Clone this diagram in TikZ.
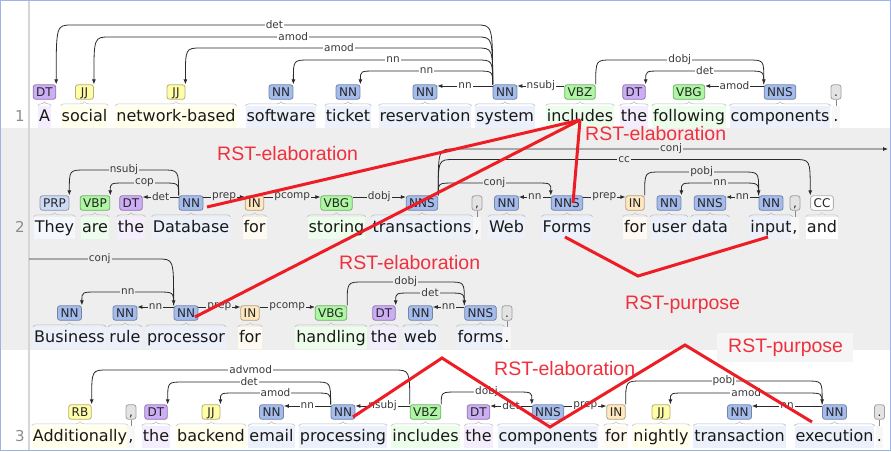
\documentclass[tikz,border=0pt]{standalone}
\usepackage{fontspec}
\setmainfont{DejaVu Sans}
\newfontfamily\rstfont{Liberation Sans}
\usetikzlibrary{arrows.meta,calc,decorations.pathreplacing}

\definecolor{cNN}{HTML}{A4BCED}
\definecolor{cVB}{HTML}{ADF6A2}
\definecolor{cJJ}{HTML}{FFFDA8}
\definecolor{cDT}{HTML}{CCADF6}
\definecolor{cPRP}{HTML}{CCDAF6}
\definecolor{cIN}{HTML}{FFE8BE}
\definecolor{cCC}{HTML}{FFFFFF}
\definecolor{cPU}{HTML}{E3E3E3}
\definecolor{rowgray}{HTML}{EEEEEE}
\definecolor{purposebg}{HTML}{F5F5F5}
\definecolor{rstred}{HTML}{EE1C24}
\definecolor{rsttext}{HTML}{F0303C}
\definecolor{frameblue}{HTML}{9DB4E6}
\definecolor{arcgray}{HTML}{2A2A2A}
\definecolor{labtext}{HTML}{3A3A3A}

\tikzset{
 tagbox/.style={rectangle, rounded corners=2.5pt, line width=0.8pt, inner xsep=3pt, inner ysep=0pt,
   minimum height=14.5pt, minimum width=18pt, text height=8.7pt, text depth=0pt,
   font=\fontsize{12}{12}\selectfont, text=black!85},
 punctbox/.style={tagbox, minimum width=10pt, inner xsep=1.5pt},
 wordbg/.style={anchor=base, inner xsep=1pt, inner ysep=1.5pt, text height=14pt, text depth=4.5pt,
   font=\fontsize{16}{18}\selectfont, text=black!90},
 bracedraw/.style={decorate, decoration={brace, amplitude=4pt}, line width=0.6pt},
 arcline/.style={draw=arcgray, line width=0.8pt, -{Latex[length=5pt,width=4pt]}},
 lab/.style={fill=white, inner xsep=1pt, inner ysep=0pt, font=\fontsize{10.5}{11}\selectfont, text=labtext},
 rst/.style={draw=rstred, line width=3pt},
 rstlab/.style={anchor=base west, inner sep=0pt, font=\rstfont\fontsize{19.5}{22}\selectfont, text=rsttext},
 linenum/.style={anchor=base, font=\fontsize{15}{16}\selectfont, text=black!45},
}

\newcommand\tok[6]{%
 \node[tagbox, fill=#6, draw=#6!70!black] (#1) at (#2,#3) {#5};
 \node[wordbg, fill=#6!22] (#1w) at (#2,#3+29.5) {#4};
 \draw[bracedraw, draw=#6!55!black!45] (#1w.north west) -- (#1w.north east);
}
\newcommand\ptok[4]{%
 \node[punctbox, fill=cPU, draw=cPU!70!black] (#1) at (#2,#3) {#4};
 \node[wordbg, fill=cPU!30] (#1w) at (#2,#3+29.5) {#4};
 \draw[draw=cPU!60!black, line width=0.6pt] (#1.south) -- (#1w.north);
}
\newcommand\arcL[4]{\draw[arcline] let \p1=(#1.north west), \p2=(#2.north east) in
  (\p1) .. controls (\x1,-#3pt) .. (\x1-16pt,-#3pt) -- node[lab]{#4} (\x2+16pt,-#3pt) .. controls (\x2,-#3pt) .. (\p2);}
\newcommand\arcR[4]{\draw[arcline] let \p1=(#1.north east), \p2=(#2.north west) in
  (\p1) .. controls (\x1,-#3pt) .. (\x1+16pt,-#3pt) -- node[lab]{#4} (\x2-16pt,-#3pt) .. controls (\x2,-#3pt) .. (\p2);}
\newcommand\sL[3]{\draw[arcline] ([yshift=6pt]#1.west) -- node[lab]{#3} ([yshift=6pt]#2.east);}
\newcommand\sR[3]{\draw[arcline] ([yshift=6pt]#1.east) -- node[lab]{#3} ([yshift=6pt]#2.west);}

\begin{document}
\begin{tikzpicture}[x=1pt,y=-1pt]
\useasboundingbox (0,0) rectangle (891,451);
% backgrounds
\fill[white] (0,0) rectangle (891,451);
\fill[rowgray] (0,128) rectangle (891,350);
\draw[black!16, line width=2pt] (28.5,0) -- (28.5,451);
\fill[purposebg] (717,333) rectangle (853,362);

% line numbers
\node[linenum] (ln1) at (20,121.5) {1};
\node[linenum] (ln2) at (20,232.5) {2};
\node[linenum] (ln3) at (20,441.5) {3};

% ---------- sentence 1 ----------
\tok{a}{44.5}{92}{A}{DT}{cDT}
\tok{social}{84.5}{92}{social}{JJ}{cJJ}
\tok{netb}{176}{92}{network-based}{JJ}{cJJ}
\tok{software}{281}{92}{software}{NN}{cNN}
\tok{ticket}{348}{92}{ticket}{NN}{cNN}
\tok{reserv}{425}{92}{reservation}{NN}{cNN}
\tok{system}{505}{92}{system}{NN}{cNN}
\tok{incl}{580}{92}{includes}{VBZ}{cVB}
\tok{theA}{634}{92}{the}{DT}{cDT}
\tok{follow}{689}{92}{following}{VBG}{cVB}
\tok{comps}{780}{92}{components}{NNS}{cNN}
\ptok{dotA}{836}{92}{.}

\arcL{system}{a}{25}{det}
\arcL{system}{social}{37}{amod}
\arcL{system}{netb}{48}{amod}
\arcL{system}{software}{60}{nn}
\arcL{system}{ticket}{71}{nn}
\sL{system}{reserv}{nn}
\sL{incl}{system}{nsubj}
\arcR{incl}{comps}{60}{dobj}
\arcL{comps}{theA}{71}{det}
\sL{comps}{follow}{amod}

% ---------- sentence 2 ----------
\begin{scope}[lab/.append style={fill=rowgray}]
\tok{they}{54.5}{203}{They}{PRP}{cPRP}
\tok{are}{95}{203}{are}{VBP}{cVB}
\tok{theB}{131}{203}{the}{DT}{cDT}
\tok{dbase}{191}{203}{Database}{NN}{cNN}
\tok{forB}{254.5}{203}{for}{IN}{cIN}
\tok{storing}{336.5}{203}{storing}{VBG}{cVB}
\tok{trans}{422}{203}{transactions}{NNS}{cNN}
\ptok{commaB}{477}{203}{,}
\tok{web}{506.5}{203}{Web}{NN}{cNN}
\tok{forms}{567}{203}{Forms}{NNS}{cNN}
\tok{forC}{635}{203}{for}{IN}{cIN}
\tok{user}{669}{203}{user}{NN}{cNN}
\tok{data}{710}{203}{data}{NNS}{cNN}
\tok{input}{771}{203}{input}{NN}{cNN}
\ptok{commaC}{795}{203}{,}
\tok{and}{822}{203}{and}{CC}{cCC}

\arcL{dbase}{they}{170}{nsubj}
\arcL{dbase}{are}{183}{cop}
\sL{dbase}{theB}{det}
\sR{dbase}{forB}{prep}
\sR{forB}{storing}{pcomp}
\sR{storing}{trans}{dobj}
\coordinate (conjout) at (888,149);
\draw[arcline] let \p1=(trans.north east) in
  (\p1) .. controls (\x1,-149pt) .. (\x1+16pt,-149pt) -- node[lab]{conj} (conjout);
\arcR{trans}{and}{159.5}{cc}
\arcR{trans}{forms}{183}{conj}
\sL{forms}{web}{nn}
\sR{forms}{forC}{prep}
\arcR{forC}{input}{172}{pobj}
\arcL{input}{user}{183}{nn}
\sL{input}{data}{nn}

% continuation line
\tok{business}{69.5}{313}{Business}{NN}{cNN}
\tok{rule}{125}{313}{rule}{NN}{cNN}
\tok{proc}{186}{313}{processor}{NN}{cNN}
\tok{forD}{250}{313}{for}{IN}{cIN}
\tok{handling}{331}{313}{handling}{VBG}{cVB}
\tok{theD}{384}{313}{the}{DT}{cDT}
\tok{webD}{420.5}{313}{web}{NN}{cNN}
\tok{formsD}{480.5}{313}{forms}{NNS}{cNN}
\ptok{dotD}{507}{313}{.}

\coordinate (conjin) at (29,259);
\draw[arcline] let \p2=(proc.north west) in
  (conjin) -- node[lab,pos=0.55]{conj} (\x2-16pt,-259pt) .. controls (\x2,-259pt) .. (\p2);
\arcL{proc}{business}{292}{nn}
\sL{proc}{rule}{nn}
\sR{proc}{forD}{prep}
\sR{forD}{handling}{pcomp}
\arcR{handling}{formsD}{282}{dobj}
\arcL{formsD}{theD}{293}{det}
\sL{formsD}{webD}{nn}
\end{scope}

% ---------- sentence 3 ----------
\tok{addl}{80}{412}{Additionally}{RB}{cJJ}
\ptok{commaE}{131}{412}{,}
\tok{theE}{156}{412}{the}{DT}{cDT}
\tok{backend}{211}{412}{backend}{JJ}{cJJ}
\tok{email}{271.5}{412}{email}{NN}{cNN}
\tok{processing}{343}{412}{processing}{NN}{cNN}
\tok{inclE}{425.5}{412}{includes}{VBZ}{cVB}
\tok{theF}{478.5}{412}{the}{DT}{cDT}
\tok{compsE}{548}{412}{components}{NNS}{cNN}
\tok{forE}{616}{412}{for}{IN}{cIN}
\tok{nightly}{661}{412}{nightly}{JJ}{cJJ}
\tok{transaction}{739.5}{412}{transaction}{NN}{cNN}
\tok{execution}{834.5}{412}{execution}{NN}{cNN}
\ptok{dotE}{879.5}{412}{.}

\arcL{inclE}{addl}{370}{advmod}
\arcL{processing}{theE}{382}{det}
\arcL{processing}{backend}{393}{amod}
\sL{processing}{email}{nn}
\sL{inclE}{processing}{nsubj}
\arcR{inclE}{compsE}{392}{dobj}
\sL{compsE}{theF}{det}
\sR{compsE}{forE}{prep}
\arcR{forE}{execution}{381}{pobj}
\arcL{execution}{nightly}{393}{amod}
\sL{execution}{transaction}{nn}

% ---------- RST relations ----------
\coordinate (apex) at (580,120);
\coordinate (dbr) at (207,207);
\coordinate (procr) at (195,317);
\coordinate (formsr) at (573,203);
\draw[rst] (dbr) -- (apex);
\draw[rst] (procr) -- (apex);
\draw[rst] (apex) -- (formsr);
\coordinate (pv1) at (565,237);
\coordinate (pv2) at (638,276);
\coordinate (pv3) at (768,237);
\draw[rst] (pv1) -- (pv2) -- (pv3);
\coordinate (z1) at (353,417);
\coordinate (z2) at (442,358);
\coordinate (z3) at (550,427);
\coordinate (z4) at (685,345);
\coordinate (z5) at (812,422);
\draw[rst] (z1) -- (z2) -- (z3) -- (z4) -- (z5);

\node[rstlab] (r1) at (217,160) {RST-elaboration};
\node[rstlab] (r2) at (585,140) {RST-elaboration};
\node[rstlab] (r3) at (339,269) {RST-elaboration};
\node[rstlab] (r4) at (494,375) {RST-elaboration};
\node[rstlab] (p1) at (625,309) {RST-purpose};
\node[rstlab] (p2) at (728,352) {RST-purpose};

% frame
\draw[frameblue, line width=1.2pt] (0.6,0.6) rectangle (890.4,450.4);
\end{tikzpicture}
\end{document}
